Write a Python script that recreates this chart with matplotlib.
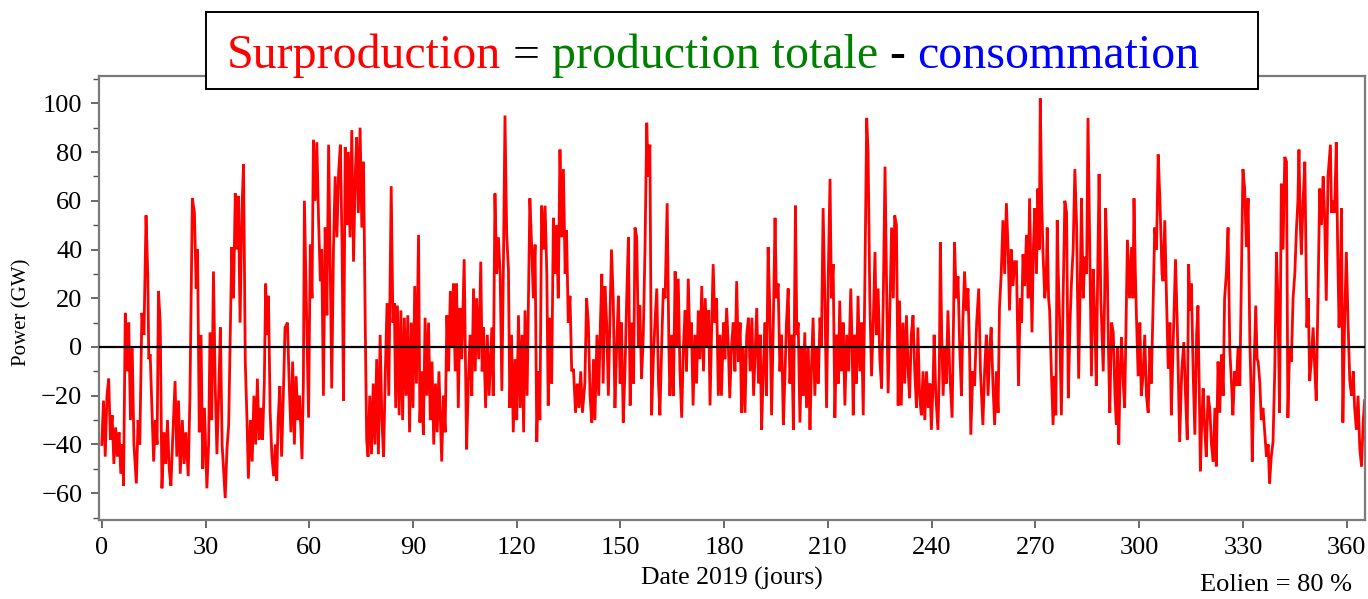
import numpy as np
import matplotlib
matplotlib.use("Agg")
import matplotlib.pyplot as plt
from matplotlib.patches import Rectangle
from matplotlib.ticker import MultipleLocator

# Surplus power (GW) = total production - consumption, 2019, read as (day, GW) pairs
q1_points = [
    (0, -40), (0.5, -22), (1, -45), (1.5, -20), (2, -13), (2.5, -38), (3, -28), (3.5, -48),
    (4, -33), (4.5, -45), (5, -35), (5.5, -52), (6, -40), (6.3, -57), (6.8, 14), (7.3, -10),
    (7.8, 10), (8.3, -30), (8.8, 0), (9.3, -40), (10, -56), (10.5, -30), (11, -40), (11.6, 14),
    (12.2, 5), (12.8, 54), (13.3, 30), (13.6, -5), (14, -3), (14.5, -25), (15, -47), (15.5, -30),
    (16, -40), (16.4, 23), (16.9, 10), (17.4, -58), (18, -35), (18.5, -48), (19, -30), (19.5, -50),
    (20, -57), (20.5, -38), (21.2, -14), (21.7, -45), (22.2, -22), (22.7, -52), (23.3, -30),
    (23.8, -48), (24.3, -35), (25, -53), (25.5, -20), (26.2, 61), (26.8, 55), (27.3, 24),
    (27.7, 40), (28.2, -35), (28.7, 5), (29.2, -50), (29.7, -25), (30.4, -58), (30.9, -40),
    (31.3, 6), (31.8, -30), (32.3, 31), (32.8, -15), (33.3, -44), (33.8, -20), (34.3, 8),
    (34.8, -40), (35.7, -62), (36.2, -42), (36.7, -32), (37.2, 10), (37.6, 41), (38.1, 20),
    (38.6, 63), (39.1, 40), (39.5, 62), (40, 10), (40.5, 55), (41, 75), (41.5, -6), (42, -30),
    (42.4, -54), (43, -30), (43.5, -47), (44, -20), (44.5, -40), (45, -13), (45.5, -38),
    (46, -25), (46.5, -38), (47, -15), (47.4, 26), (47.8, 5), (48.2, 21), (48.7, -27),
    (49.2, -45), (49.7, -53), (50.2, -40), (50.6, -55), (51, -30), (51.5, -16), (52, -45),
    (52.5, -20), (53, 8), (53.7, 10), (54.2, -15), (54.7, -35), (55.2, -6), (55.7, -40),
    (56.2, -12), (56.7, -30), (57.2, -20), (57.9, -46), (58.3, -15), (58.6, 60), (59, 30),
    (59.3, 9), (59.8, -29), (60.3, 42), (60.8, 20), (61.2, 85), (61.7, 60), (62.2, 84),
    (62.7, 52), (63.2, 27), (63.6, 40), (64.1, -20), (64.6, 49), (65.1, 13), (65.6, 83),
    (66.1, 30), (66.5, -17), (67, 40), (67.5, 70), (68, 45), (68.5, 72), (69, 83), (69.5, 40),
    (69.9, -22), (70.4, 82), (70.9, 50), (71.3, 80), (71.8, 45), (72.3, 89), (72.8, 35),
    (73.3, 70), (73.7, 86), (74.2, 55), (74.7, 90), (75.2, 49), (75.7, 76), (76.2, 8),
    (76.6, -38), (77, -45), (77.5, -20), (78, -44), (78.5, -15), (79, -40), (79.5, -5),
    (80, -44), (80.5, 5), (81, -30), (81.5, -45), (82, -10), (82.5, 18), (83, -20), (83.7, 66),
    (84.2, 10), (84.6, 18), (85, -25), (85.5, 17), (86, -28), (86.5, 15), (87, -30), (87.5, 12),
    (88, -20), (88.5, 13), (89, -35), (89.5, 10), (90, -25), (90.5, 25),
]
q2_points = [
    (91, -15), (91.6, 46), (92, -31), (92.5, -10), (93, -36), (93.5, 12), (94, -20), (94.5, 10),
    (95, -30), (95.5, -6), (96, -40), (96.5, -15), (97, -35), (97.5, -10), (98.3, -47),
    (98.8, -20), (99.3, -35), (99.8, 13), (100.3, -10), (100.8, 23), (101.3, 0), (101.7, 26),
    (102.2, -10), (102.6, 26), (103.1, -25), (103.6, 16), (104.1, -5), (104.8, 36), (105.2, -10),
    (105.5, -42), (106, -15), (106.5, 5), (107, -20), (107.5, 24), (108, -10), (108.4, 20),
    (109, -5), (109.6, 35), (110, -10), (110.4, 8), (111, -25), (111.5, 5), (112, -20),
    (112.8, 8), (113.2, -20), (113.7, 63), (114.2, 30), (114.7, 45), (115.2, 30), (115.7, -18),
    (116.2, 40), (116.6, 95), (117.1, 46), (117.6, 32), (118, -25), (118.5, 5), (119, -35),
    (119.5, -5), (120, -30), (120.5, 13), (121, -25), (121.5, 5), (122, -35), (122.4, 15),
    (123, -20), (123.8, 61), (124.3, 42), (124.8, 20), (125.3, 42), (125.8, -39), (126.3, -10),
    (126.7, -30), (127.2, 58), (127.7, 40), (128.2, 58), (128.7, 30), (129.1, -24), (129.6, 12),
    (130.1, -15), (130.6, 53), (131, 30), (131.5, 50), (132, 20), (132.5, 81), (133, 45),
    (133.5, 73), (134, 30), (134.4, 48), (134.9, 10), (135.4, 21), (135.9, -10), (136.4, -9),
    (137, -27), (137.5, -15), (138, -25), (138.5, -10), (139, -27), (139.7, -15), (140.2, 20),
    (140.7, 10), (141.2, -20), (141.7, -31), (142.2, -5), (142.6, -30), (143.2, 5), (143.7, -20),
    (144.2, 10), (144.6, 30), (145, -15), (145.5, 25), (146, 10), (146.5, -20), (147, 15),
    (147.4, 40), (147.9, 20), (148.4, -25), (148.9, 0), (149.4, 21), (149.9, -15), (150.3, 10),
    (150.8, -31), (151.3, -10), (151.8, 20), (152.3, 45), (152.8, -24), (153.3, 10),
    (153.8, -15), (154.2, 49), (154.7, 45), (155.2, 0), (155.6, 17), (156.1, -13), (156.6, 5),
    (157.1, 41), (157.6, 92), (158, 70), (158.5, 83), (159, -28), (159.5, -5), (159.9, 8),
    (160.5, 24), (161, -15), (161.4, -28), (162, 5), (162.4, 24), (162.9, 20), (163.5, 59),
    (164, 0), (164.3, -20), (164.8, 5), (165.3, -20), (165.8, 31), (166.2, 0), (166.7, 28),
    (167.2, -10), (167.7, -29), (168.2, 0), (168.7, 15), (169.1, -10), (169.6, 28), (170.1, 0),
    (170.5, 10), (171, -24), (171.5, 5), (172, -15), (172.5, 15), (173, -5), (173.5, 25),
    (174, -10), (174.5, 20), (175, 0), (175.5, 15), (175.9, -24), (176.4, 10), (176.8, 34),
    (177.3, 10), (177.8, 20), (178.3, -20), (178.8, 5), (179.2, -20), (179.8, 10), (180.2, -5),
    (180.7, 16),
]
q3_points = [
    (181.2, 0), (181.6, -21), (182.1, 0), (182.6, 10), (183.1, -10), (183.6, 27), (184.1, -6),
    (184.6, 10), (185, -27), (185.5, 0), (186, -27), (186.5, 5), (187, 12), (187.5, -10),
    (188, 12), (188.5, -20), (189, 0), (189.4, 16), (189.9, -15), (190.4, 5), (190.8, -34),
    (191.3, -10), (191.8, 10), (192.2, -20), (192.7, 41), (193.2, 15), (193.7, -28), (194.2, 10),
    (194.7, 53), (195.1, 20), (195.6, 26), (196.1, -10), (196.6, 5), (197.1, -32), (197.6, -10),
    (198, 10), (198.5, 24), (199, -15), (199.5, 5), (200, -34), (200.6, 58), (201, 5),
    (201.4, 10), (201.9, -31), (202.4, 0), (202.8, -20), (203.3, 6), (203.8, -25), (204.3, 0),
    (204.8, -34), (205.2, -10), (205.7, 12), (206.2, -20), (206.7, 0), (207.2, -15), (207.7, 12),
    (208.1, 0), (208.6, 57), (209.1, 20), (209.6, -25), (210.1, 30), (210.6, 69), (211, 20),
    (211.5, 34), (212, -29), (212.5, 5), (213, -15), (213.4, 19), (213.9, -10), (214.4, 10),
    (214.9, -24), (215.4, 5), (216, -10), (216.6, 24), (217, 0), (217.3, -28), (217.8, 5),
    (218.2, -15), (218.7, 21), (219.2, -10), (219.7, 10), (220.2, -28), (220.7, 30), (221.2, 94),
    (221.6, 80), (222.1, 20), (222.6, -12), (223.1, 10), (223.6, 39), (224, 5), (224.5, 24),
    (225, -5), (225.5, -17), (226, 20), (226.5, 74), (227, 20), (227.4, -19), (227.9, 15),
    (228.4, 49), (228.9, 20), (229.3, 54), (229.8, 50), (230.3, -24), (230.7, 19), (231.2, -24),
    (231.7, 10), (232.2, -15), (232.7, 13), (233.2, -10), (233.6, -21), (234.1, 5), (234.6, 13),
    (235.1, -10), (235.6, -25), (236, 8), (236.5, -20), (237, -28), (237.5, -10), (238, -30),
    (238.5, -10), (239, -25), (239.5, -15), (239.9, -34), (240.4, -15), (240.7, 5), (241.2, -20),
    (241.8, -34), (242.2, -10), (242.5, 43), (242.9, 5), (243.3, -20), (243.8, 0), (244.2, -15),
    (244.7, 15), (245.2, -10), (245.9, -29), (246.3, 10), (246.6, 43), (247.1, 20), (247.6, 29),
    (248.1, 0), (248.6, -20), (249, 10), (249.5, 31), (250, 15), (250.5, 24), (251, -5),
    (251.3, -36), (251.9, -10), (252.4, -16), (253, 10), (253.6, 24), (254.1, -10), (254.8, -32),
    (255.3, -10), (255.8, 5), (256.3, -20), (256.8, 0), (257.2, 8), (257.7, -15), (258.2, -32),
    (258.7, -10), (259.2, -27), (259.6, 16), (260.1, 30), (260.6, 52), (261.1, 30), (261.6, 59),
    (262.1, 40), (262.5, 15), (263, 40), (263.5, 25), (264, 35), (264.5, 35), (265.1, -16),
    (265.6, 20), (266, 10), (266.4, 38), (266.9, 25), (267.4, 46), (267.9, 20), (268.3, 61),
    (268.7, 30), (269, 6), (269.4, 40), (269.8, 57), (270.3, 30),
]
q4_points = [
    (270.7, 65), (271.1, 40), (271.4, 102), (271.8, 60), (272.2, 38), (272.7, 20), (273.1, 27),
    (273.4, 49), (273.8, 20), (274.1, 15), (274.6, -10), (275.1, -32), (275.5, -12),
    (275.9, -28), (276.3, 52), (276.6, 30), (277, 10), (277.5, -28), (278, 20), (278.5, 60),
    (279, 55), (279.5, -21), (280, 10), (280.4, 26), (280.9, 40), (281.4, 73), (281.9, 50),
    (282.5, -13), (283, 30), (283.3, 61), (283.8, 20), (284.3, 37), (284.8, 30), (285.2, 94),
    (285.7, 40), (286.2, -12), (286.7, 32), (287.2, 10), (287.6, -16), (288, 30), (288.4, 71),
    (288.9, 20), (289.6, -10), (290, 20), (290.3, 57), (290.8, 30), (291.1, 0), (291.5, -27),
    (292, 10), (292.5, 6), (293, -20), (293.4, -32), (293.7, 0), (294.1, -40), (294.5, -10),
    (294.9, 4), (295.4, -15), (295.8, -25), (296.2, 10), (296.6, 44), (297.2, 20), (297.8, 41),
    (298.2, 20), (298.5, 61), (298.9, 30), (299.2, 13), (299.7, -12), (300.2, 10), (300.6, -20),
    (301.1, -12), (301.6, 5), (302.1, -20), (302.6, -27), (303.1, 0), (303.5, -15), (304, 16),
    (304.5, 49), (305, 40), (305.5, 79), (306, 60), (306.2, 50), (306.6, 30), (306.9, 27),
    (307.4, 52), (307.9, 20), (308.4, -9), (308.9, 10), (309.3, -28), (309.8, 0), (310.5, 36),
    (311, 10), (311.7, -39), (312.3, -10), (312.9, 2), (313.4, -20), (313.9, -38), (314.3, 34),
    (314.7, 15), (315.1, 26), (315.6, -10), (316.1, -36), (316.6, 5), (317, 17), (317.4, -20),
    (317.7, -51), (318.1, -30), (318.5, -17), (319, -35), (319.4, -45), (319.9, -20),
    (320.4, -25), (320.9, -40), (321.4, -47), (321.9, -25), (322.3, -49), (322.8, -6),
    (323.3, -27), (323.8, -3), (324.3, -20), (324.7, 20), (325.2, 30), (325.7, 49), (326.2, -1),
    (326.7, -15), (327.1, -28), (327.6, -10), (328.1, -16), (328.6, 0), (329.1, -16), (329.6, 32),
    (330, 73), (330.5, 65), (331, 41), (331.5, 61), (332, 2), (332.4, -20), (332.7, -47),
    (333.2, -10), (333.7, 17), (334.1, -5), (334.4, -6), (334.9, -15), (335.3, -30),
    (335.8, -25), (336.3, -35), (336.8, -45), (337.3, -40), (337.7, -56), (338.2, -45),
    (338.7, -39), (339.2, -10), (339.7, 39), (340.1, 20), (340.6, -27), (341.1, 67), (341.6, 40),
    (342.1, 78), (342.6, 76), (343, -29), (343.5, 0), (344, -6), (344.5, 20), (345, 30),
    (345.5, 49), (345.9, 60), (346.2, 81), (346.6, 50), (346.9, 38), (347.4, 60), (347.9, 76),
    (348.5, 8), (348.9, 20), (349.3, -14), (349.8, -5), (350.3, 8), (350.8, -10), (351.2, -22),
    (351.7, 20), (352.2, 65), (352.7, 50), (353.2, 70), (353.6, 55), (354.1, 19), (354.6, 70),
    (355.3, 83), (355.6, 55), (356, 60), (356.5, 55), (357, 84), (357.4, 40), (357.8, 8),
    (358.2, 30), (358.5, 57), (358.9, -31), (359.4, 10), (359.9, 39), (360.4, 10), (360.9, -14),
    (361.4, -20), (361.9, -10), (362.3, -25), (362.8, -34), (363.3, -20), (363.8, -42),
    (364.3, -49), (364.8, -30), (365.2, -22),
]

x_ticks = list(range(0, 361, 30))
y_ticks = list(range(-60, 101, 20))

title_parts = [
    ("Surproduction", "#ff0000"),
    ("=", "#000000"),
    ("production totale", "#008000"),
    ("-", "#000000"),
    ("consommation", "#0000ff"),
]

all_points = q1_points + q2_points + q3_points + q4_points
day = np.array([p[0] for p in all_points])
surplus = np.array([p[1] for p in all_points])

SERIF = "Liberation Serif"
W, H = 1368, 599
fig = plt.figure(figsize=(W / 100, H / 100), dpi=100)
ax = fig.add_axes([99 / W, 1 - 520 / H, (1365 - 99) / W, (520 - 76) / H])

ax.plot(day, surplus, color="#ff0000", lw=2.0, zorder=2, solid_joinstyle="miter")
ax.axhline(0, color="black", lw=1.6, zorder=3)

ax.set_xlim(-0.8, 365.3)
ax.set_ylim(-71.0, 111.2)
ax.set_xticks(x_ticks)
ax.set_yticks(y_ticks)
ax.yaxis.set_minor_locator(MultipleLocator(10))
ax.set_yticklabels([f"{v}".replace("-", "\u2212") for v in y_ticks])

for side in ("left", "right", "top", "bottom"):
    ax.spines[side].set_color("#7a7a7a")
    ax.spines[side].set_linewidth(1.6)

ax.tick_params(axis="both", which="major", direction="out", length=6, width=1.2,
               color="#505050", labelsize=19, pad=6)
ax.tick_params(axis="y", which="minor", direction="out", length=4, width=1.0, color="#505050")
for lab in ax.get_xticklabels() + ax.get_yticklabels():
    lab.set_fontfamily(SERIF)

fig.text(732 / W, 1 - 578 / H, "Date 2019 (jours)", ha="center", va="center",
         fontsize=18.5, family=SERIF)
fig.text(22 / W, 1 - 312 / H, "Power (GW)", ha="center", va="center", rotation=90,
         fontsize=15, family=SERIF)
fig.text(1352 / W, 1 - 585 / H, "Eolien = 80 %", ha="right", va="center",
         fontsize=19, family=SERIF)

# Title box sitting over the top of the frame
fig.add_artist(Rectangle((206 / W, 1 - 89 / H), (1258 - 206) / W, 77 / H,
                         transform=fig.transFigure, facecolor="white",
                         edgecolor="black", lw=1.4, zorder=10))

renderer = fig.canvas.get_renderer()
title_size = 34.5
probe_a = fig.text(0, 0, "aa", fontsize=title_size, family=SERIF)
probe_b = fig.text(0, 0, "a a", fontsize=title_size, family=SERIF)
space_w = (probe_b.get_window_extent(renderer).width
           - probe_a.get_window_extent(renderer).width)
probe_a.remove()
probe_b.remove()

pieces = []
for txt, col in title_parts:
    t = fig.text(0, 1 - 68 / H, txt, color=col, fontsize=title_size, family=SERIF,
                 va="baseline", ha="left", zorder=11)
    pieces.append(t)
widths = [t.get_window_extent(renderer).width for t in pieces]
total = sum(widths) + space_w * (len(pieces) - 1)
x_px = 713 - total / 2
for t, w in zip(pieces, widths):
    t.set_x(x_px / W)
    x_px += w + space_w

fig.savefig("out.png", dpi=100)
